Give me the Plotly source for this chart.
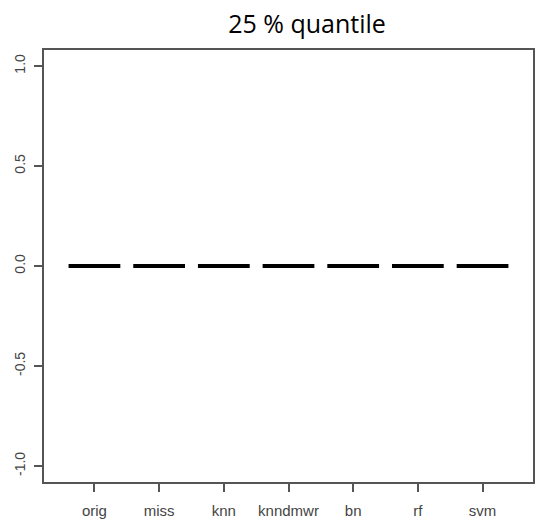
import plotly.graph_objects as go

categories = ["orig", "miss", "knn", "knndmwr", "bn", "rf", "svm"]
q25_values = [0.0, 0.0, 0.0, 0.0, 0.0, 0.0, 0.0]
y_ticks = [-1.0, -0.5, 0.0, 0.5, 1.0]
title_text = "25 % quantile"

half_w = 0.4
xs, ys = [], []
for i, v in enumerate(q25_values, start=1):
    xs += [i - half_w, i + half_w, None]
    ys += [v, v, None]

fig = go.Figure()
fig.add_trace(go.Scatter(x=xs, y=ys, mode="lines",
                         line=dict(color="black", width=4),
                         hoverinfo="skip", showlegend=False))

axcol = "#555555"
fig.update_layout(
    width=542, height=528,
    margin=dict(l=44, r=7, t=50, b=46),
    plot_bgcolor="white", paper_bgcolor="white",
    title=dict(text=title_text, x=307/542, xanchor="center", y=1 - 24/528, yanchor="middle",
               font=dict(family="Open Sans", size=25, color="black")),
    xaxis=dict(range=[0.22, 7.78], tickmode="array", tickvals=list(range(1, len(categories) + 1)),
               ticktext=categories, showgrid=False, zeroline=False,
               showline=True, linecolor=axcol, linewidth=1.5, mirror=True,
               ticks="outside", ticklen=8, tickcolor=axcol, tickwidth=1.5,
               ticklabelstandoff=6,
               tickfont=dict(family="Liberation Sans", size=15, color="#444444")),
    yaxis=dict(range=[-1.08, 1.08], tickmode="array", tickvals=y_ticks,
               ticktext=[f"{t:.1f}" for t in y_ticks], tickangle=-90,
               showgrid=False, zeroline=False,
               showline=True, linecolor=axcol, linewidth=1.5, mirror=True,
               ticks="outside", ticklen=8, tickcolor=axcol, tickwidth=1.5,
               ticklabelstandoff=4,
               tickfont=dict(family="Liberation Sans", size=14, color="#444444")),
)

fig.write_html("out.html")
